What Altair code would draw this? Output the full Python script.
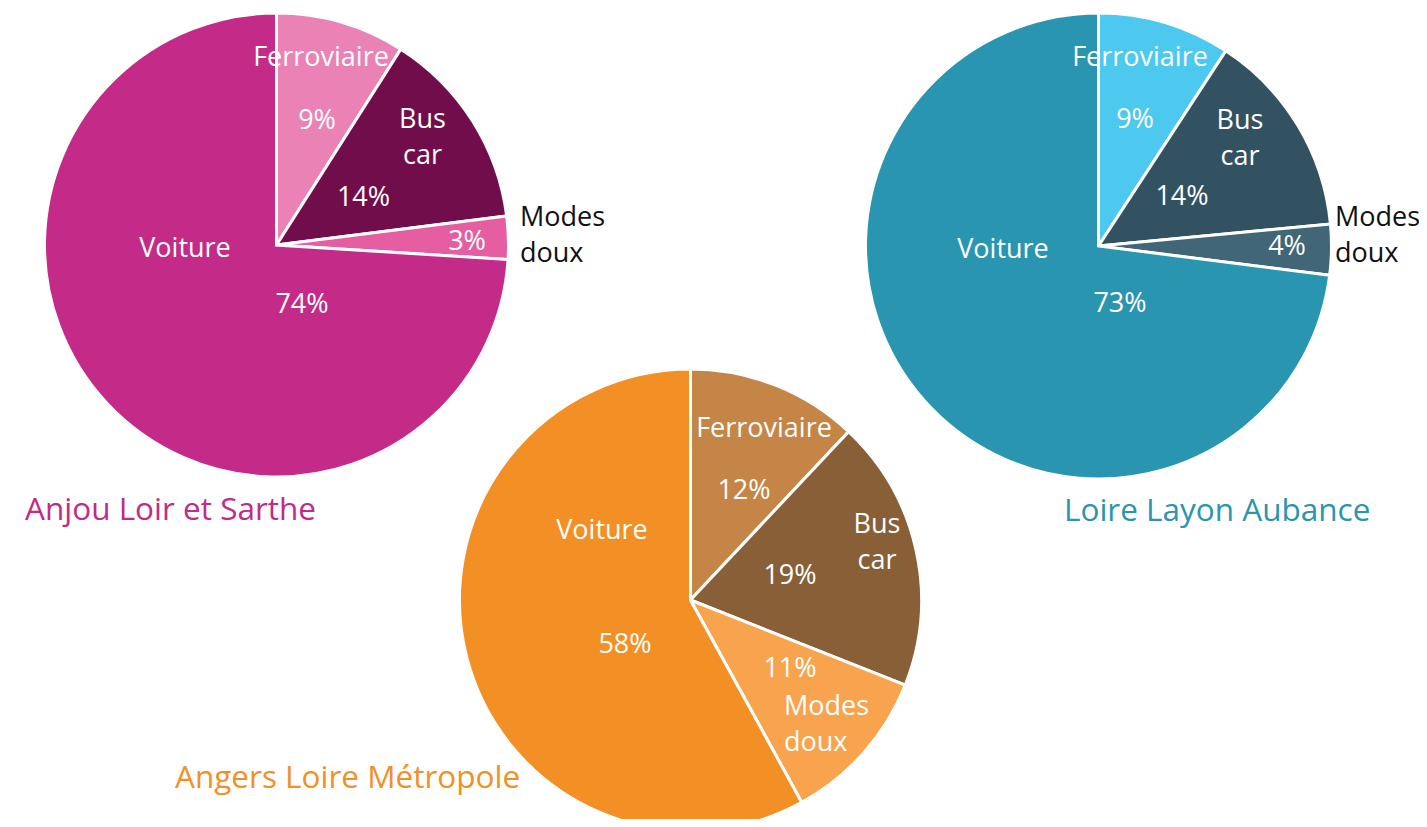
import altair as alt
import pandas as pd

# ---------------- data ----------------
modes = ["Ferroviaire", "Bus car", "Modes doux", "Voiture"]
territories = ["Anjou Loir et Sarthe", "Loire Layon Aubance", "Angers Loire Métropole"]

shares_anjou = [9, 14, 3, 74]
shares_layon = [9.2, 14.3, 3.5, 73.0]
shares_angers = [12, 19, 11, 58]

pct_anjou = ["9%", "14%", "3%", "74%"]
pct_layon = ["9%", "14%", "4%", "73%"]
pct_angers = ["12%", "19%", "11%", "58%"]

# ---------------- styles / layout ----------------
M = 8  # page margin
palettes = {
    "Anjou Loir et Sarthe": ["#EB82B5", "#720D4B", "#E55EA2", "#C42A87"],
    "Loire Layon Aubance": ["#4DC8EE", "#325262", "#416677", "#2A95B0"],
    "Angers Loire Métropole": ["#C48546", "#885F36", "#F8A34D", "#F29026"],
}
title_colors = {
    "Anjou Loir et Sarthe": "#C42A87",
    "Loire Layon Aubance": "#2A95B0",
    "Angers Loire Métropole": "#F29026",
}
# pie centre (page px) and radius
pies = {
    "Anjou Loir et Sarthe": (276.5, 245, 232),
    "Loire Layon Aubance": (1098.5, 246, 233),
    "Angers Loire Métropole": (690.5, 600, 231),
}
# label placement (page px, first-line centre): (name_x, name_y, name_align, pct_x, pct_y, name_color)
label_layout = {
    "Anjou Loir et Sarthe": {
        "Ferroviaire": (321, 58, "center", 317, 121, "white"),
        "Bus car": (422.5, 120, "center", 363.5, 198, "white"),
        "Modes doux": (520, 218, "left", 467, 242, "#111111"),
        "Voiture": (185, 249, "center", 302, 305, "white"),
    },
    "Loire Layon Aubance": {
        "Ferroviaire": (1140, 58, "center", 1135, 120, "white"),
        "Bus car": (1240, 121, "center", 1182, 197, "white"),
        "Modes doux": (1335, 218, "left", 1287, 247, "#111111"),
        "Voiture": (1003, 250, "center", 1120, 304, "white"),
    },
    "Angers Loire Métropole": {
        "Ferroviaire": (764, 429, "center", 744, 491, "white"),
        "Bus car": (877, 525, "center", 790, 576, "white"),
        "Modes doux": (784, 707, "left", 790, 669, "white"),
        "Voiture": (602, 531, "center", 625, 645, "white"),
    },
}
title_layout = {
    "Anjou Loir et Sarthe": (25, 511),
    "Loire Layon Aubance": (1064, 512),
    "Angers Loire Métropole": (175, 779),
}

FONT = "Open Sans"
LABEL_SIZE = 27
TITLE_SIZE = 31.5

shares = {
    "Anjou Loir et Sarthe": shares_anjou,
    "Loire Layon Aubance": shares_layon,
    "Angers Loire Métropole": shares_angers,
}
pcts = {
    "Anjou Loir et Sarthe": pct_anjou,
    "Loire Layon Aubance": pct_layon,
    "Angers Loire Métropole": pct_angers,
}

layers = []
label_rows = []
title_rows = []
for terr in territories:
    cx, cy, r = pies[terr]
    df = pd.DataFrame({
        "mode": modes,
        "value": shares[terr],
        "order": list(range(len(modes))),
        "color": palettes[terr],
    })
    arc = alt.Chart(df).mark_arc(stroke="white", strokeWidth=3).encode(
        theta=alt.Theta("value:Q", stack=True),
        order=alt.Order("order:Q"),
        color=alt.Color("color:N", scale=None),
        x=alt.value(cx - M),
        y=alt.value(cy - M),
        radius=alt.value(r),
    )
    layers.append(arc)
    for i, m in enumerate(modes):
        nx, ny, nal, px, py, ncol = label_layout[terr][m]
        label_rows.append({"text": m.replace(" ", "\n"), "x": nx - M, "y": ny - M,
                           "align": nal, "color": ncol})
        label_rows.append({"text": pcts[terr][i], "x": px - M, "y": py - M,
                           "align": "center", "color": "white"})
    tx, ty = title_layout[terr]
    title_rows.append({"text": terr, "x": tx - M, "y": ty - M, "color": title_colors[terr]})

labels = pd.DataFrame(label_rows)
for al in ["center", "left"]:
    sub = labels[labels["align"] == al]
    layers.append(
        alt.Chart(sub).mark_text(
            align=al, baseline="middle", font=FONT, fontSize=LABEL_SIZE,
            lineBreak="\n", lineHeight=36,
        ).encode(
            x=alt.X("x:Q", scale=None),
            y=alt.Y("y:Q", scale=None),
            text="text:N",
            color=alt.Color("color:N", scale=None),
        )
    )

titles = pd.DataFrame(title_rows)
layers.append(
    alt.Chart(titles).mark_text(
        align="left", baseline="middle", font=FONT, fontSize=TITLE_SIZE,
    ).encode(
        x=alt.X("x:Q", scale=None),
        y=alt.Y("y:Q", scale=None),
        text="text:N",
        color=alt.Color("color:N", scale=None),
    )
)

chart = alt.layer(*layers).resolve_scale(theta="independent").properties(
    width=1411, height=811, padding=0, autosize=alt.AutoSizeParams(type="none"),
).configure_view(stroke=None)

chart.save("out.html", embed_options={"renderer": "svg", "actions": False})
